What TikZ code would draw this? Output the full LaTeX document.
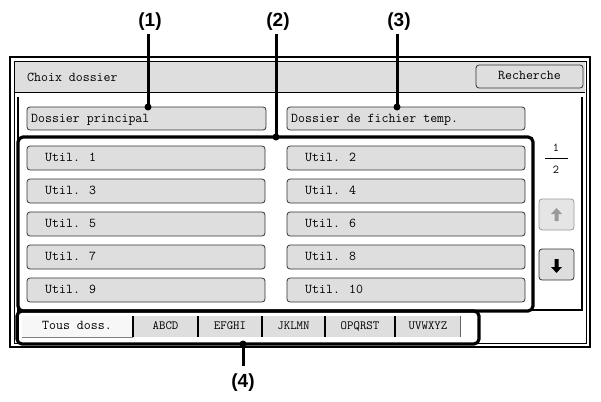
\documentclass[tikz,border=0pt]{standalone}
\usepackage{fontspec}
\setmainfont{Liberation Sans}
\begin{document}
\begin{tikzpicture}[x=1pt,y=-1pt,
 mf/.style={font=\ttfamily\fontsize{13.5}{15}\selectfont,text height=8pt,text depth=1.5pt},
 btn/.style={draw=black!80,line width=0.8pt,fill=black!13,rounded corners=3pt},
 bt/.style={mf,anchor=west,inner sep=0},
 hl/.style={draw=black,line width=3.2pt,rounded corners=5pt},
 lab/.style={font=\bfseries\fontsize{19}{21}\selectfont},
 lead/.style={line width=3pt},
 dot/.style={circle,fill=black,inner sep=0,minimum size=7pt}]
\useasboundingbox (0,0) rectangle (601,401);
% outer frame
\draw[line width=2.5pt] (10,57) rectangle (590,347);
\draw[line width=0.6pt] (14,61) rectangle (586,343);
\fill[black!13] (15,62) rectangle (585,92);
\draw[line width=0.6pt] (15,92) -- (585,92);
\node[bt] (title) at (27,78) {Choix dossier};
\draw[btn] (476,65) rectangle (583,88);
\node[mf] (rech) at (529.5,76.5) {Recherche};
% panel
\draw[line width=1.2pt] (18,97) -- (18,343);
\draw[line width=1.2pt] (533,310) -- (582,310) -- (582,97);
% top buttons
\draw[btn] (27,107) rectangle (266,130);
\node[bt] (dp) at (31,119) {Dossier principal};
\draw[btn] (287,107) rectangle (525,130);
\node[bt] (dt) at (291,119) {Dossier de fichier temp.};
% util buttons
\foreach \i/\y in {0/146,1/179,2/212,3/245,4/278}{
 \draw[btn] (27,\y) rectangle (265,\y+24);
 \draw[btn] (287,\y) rectangle (525,\y+24);
 \pgfmathtruncatemacro{\a}{2*\i+1}\pgfmathtruncatemacro{\b}{2*\i+2}
 \node[bt] (u\a) at (45,\y+12.5) {Util. \a};
 \node[bt] (u\b) at (305,\y+12.5) {Util. \b};
}
% page indicator
\node[font=\ttfamily\fontsize{12}{13}\selectfont] (p1) at (556,148) {1};
\draw[line width=0.6pt] (545,158) -- (568,158);
\node[font=\ttfamily\fontsize{12}{13}\selectfont] (p2) at (556,170) {2};
\draw[draw=black!40,fill=black!10,rounded corners=3pt,line width=0.8pt] (539,199) rectangle (574,230);
\fill[black!40] (556.5,208) -- (551,214) -- (554.5,214) -- (554.5,221) -- (558.5,221) -- (558.5,214) -- (562,214) -- cycle;
\draw[btn] (539,249) rectangle (574,280);
\fill[black] (556.5,273) -- (551,267) -- (554.5,267) -- (554.5,259) -- (558.5,259) -- (558.5,267) -- (562,267) -- cycle;
% tabs
\fill[black!3] (22,316) rectangle (133,337);
\draw[black!50,line width=1pt] (22,337) -- (133,337);
\node[mf] (t0) at (77,326) {Tous doss.};
\foreach \xa/\xb/\t/\n in {133/198/ABCD/t1,198/262/EFGHI/t2,262/325/JKLMN/t3,325/395/OPQRST/t4,395/461/UVWXYZ/t5}{
 \fill[black!13] (\xa,316) rectangle (\xb,337);
 \draw[line width=1.4pt] (\xa,316) -- (\xa,337);
 \draw[black!60,line width=0.8pt] (\xb-1,316) -- (\xb-1,337);
 \node[font=\ttfamily\fontsize{12.5}{13}\selectfont,text height=8pt,text depth=1.5pt] (\n) at ({(\xa+\xb)/2},326) {\t};
}
% highlights
\draw[hl] (18,137) rectangle (533,311);
\draw[hl] (17,311) rectangle (479,344);
% callouts
\node[lab] (l1) at (150,22) {(1)};
\node[lab] (l2) at (278,22) {(2)};
\node[lab] (l3) at (399,22) {(3)};
\node[lab] (l4) at (243,383) {(4)};
\node[dot] (d1) at (148,107) {};
\node[dot] (d2) at (276,137) {};
\node[dot] (d3) at (397,107) {};
\node[dot] (d4) at (243,344) {};
\draw[lead] (d1.center) -- (148,34);
\draw[lead] (d2.center) -- (276,34);
\draw[lead] (d3.center) -- (397,34);
\draw[lead] (d4.center) -- (243,366);
\end{tikzpicture}
\end{document}
